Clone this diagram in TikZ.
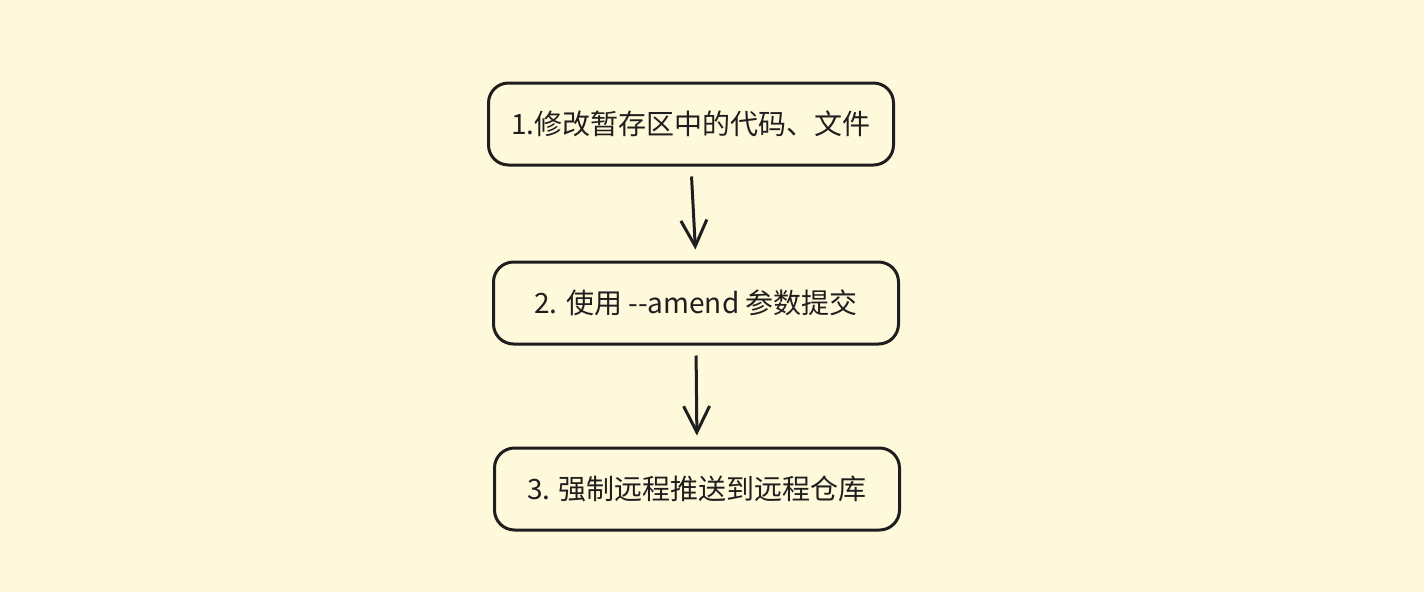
\documentclass[tikz,border=0pt]{standalone}
\usepackage{fontspec}
\newfontfamily\cjk{Noto Sans CJK SC}
\usetikzlibrary{arrows.meta}
\definecolor{paper}{HTML}{FFF9DB}
\definecolor{ink}{HTML}{1E1E1E}

\begin{document}
\begin{tikzpicture}[x=1pt,y=-1pt,line width=3pt,
 box/.style={draw=ink,rounded corners=20pt,minimum width=405pt,minimum height=82pt,text=ink,font=\cjk\fontsize{28}{32}\selectfont},
 flow/.style={draw=ink,-{Straight Barb[length=26pt,width=26pt]},shorten <=10pt,shorten >=11pt}]
 \fill[paper] (0,0) rectangle (1424,592);
 \node[box] (edit) at (691,124) {1.修改暂存区中的代码、文件};
 \node[box] (amend) at (696,303) {2. 使用 -{}-amend 参数提交};
 \node[box] (push) at (697,489) {3. 强制远程推送到远程仓库};
 \draw[flow] (edit.south) -- (amend.north);
 \draw[flow] (amend.south) -- (push.north);
\end{tikzpicture}
\end{document}
